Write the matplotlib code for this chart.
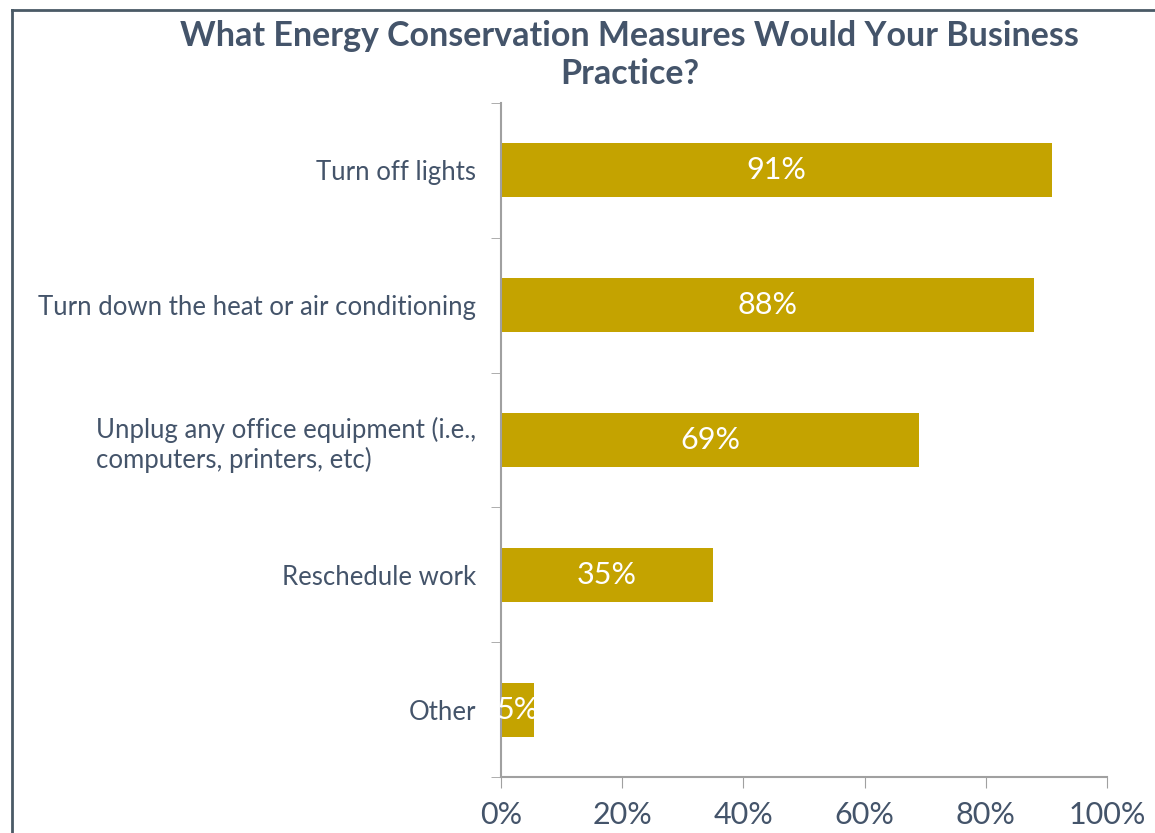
import matplotlib
matplotlib.use("Agg")
import matplotlib.pyplot as plt
from matplotlib.lines import Line2D
import numpy as np

categories = ["Turn off lights",
              "Turn down the heat or air conditioning",
              "Unplug any office equipment (i.e.,\ncomputers, printers, etc)",
              "Reschedule work",
              "Other"]
values = [91, 88, 69, 35, 5.4]
value_labels = ["91%", "88%", "69%", "35%", "5%"]
xticks = [0, 20, 40, 60, 80, 100]
xtick_labels = ["0%", "20%", "40%", "60%", "80%", "100%"]
title = "What Energy Conservation Measures Would Your Business\nPractice?"

plt.rcParams['font.family'] = ['Lato', 'DejaVu Sans']
text_col = "#44546A"
bar_col = "#C4A300"
spine_col = "#A0A0A0"

fig = plt.figure(figsize=(11.55, 8.33), dpi=100)
ax = fig.add_axes([0.4338, 0.0672, 0.9584 - 0.4338, 0.8763 - 0.0672])

n = len(categories)
y = np.arange(n)
ax.barh(y, values, height=0.4, color=bar_col)
for yi, v, lab in zip(y, values, value_labels):
    ax.text(v / 2, yi, lab, ha='center', va='center', color='white', fontsize=22)

ax.set_ylim(n - 0.5, -0.5)
ax.set_xlim(0, 100)
ax.set_yticks(y)
ax.set_yticklabels(categories, fontsize=18.5, color=text_col, multialignment='left')
ax.set_yticks(np.arange(-0.5, n, 1.0), minor=True)
ax.tick_params(axis='y', which='major', length=0, pad=18)
ax.tick_params(axis='y', which='minor', length=7, color=spine_col, direction='out')
ax.set_xticks(xticks)
ax.set_xticklabels(xtick_labels, fontsize=22, color=text_col)
ax.tick_params(axis='x', length=8, color=spine_col, direction='out', pad=9)

for s in ['top', 'right']:
    ax.spines[s].set_visible(False)
for s in ['left', 'bottom']:
    ax.spines[s].set_color(spine_col)
    ax.spines[s].set_linewidth(1.5)

fig.text(0.545, 0.976, title, ha='center', va='top', fontsize=24.5,
         fontweight='bold', color=text_col, linespacing=1.22)

# frame lines (top and left)
fig.add_artist(Line2D([12 / 1155, 1.0], [1 - 10 / 833, 1 - 10 / 833],
                      transform=fig.transFigure, color="#4A5A66", lw=2))
fig.add_artist(Line2D([12 / 1155, 12 / 1155], [0, 1 - 10 / 833],
                      transform=fig.transFigure, color="#4A5A66", lw=2))

fig.savefig("out.png", dpi=100)
